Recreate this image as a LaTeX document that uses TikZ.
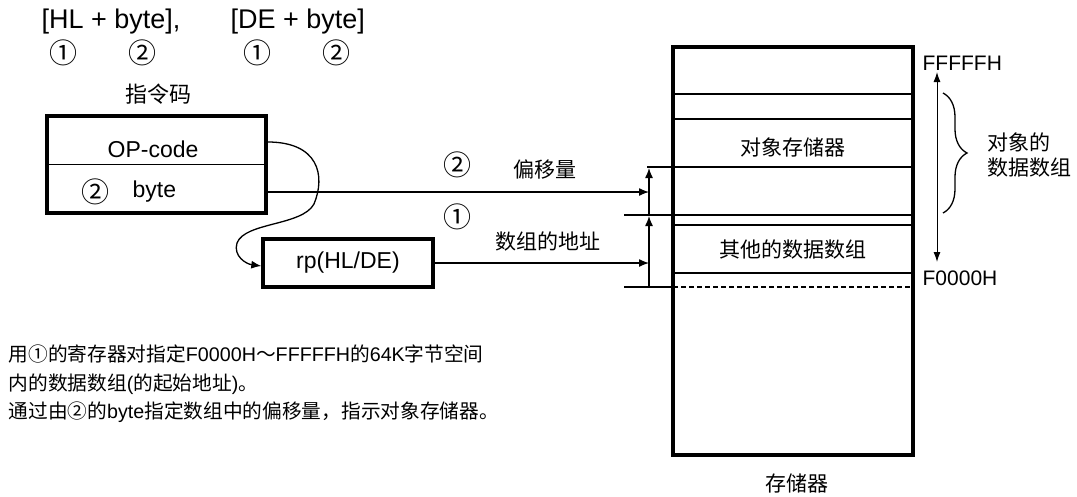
\documentclass[tikz,border=0pt]{standalone}
\usepackage{fontspec}
\setmainfont{Liberation Sans}
\newfontfamily\cjk{Noto Sans CJK SC}
\newcommand{\zh}[1]{{\cjk #1}}
\usetikzlibrary{arrows.meta, decorations.pathreplacing, calc}

\begin{document}
\begin{tikzpicture}[x=1pt, y=-1pt, line width=1.3pt,
    lbl/.style={font=\fontsize{21}{25}\selectfont\cjk, inner sep=0pt},
    num/.style={font=\fontsize{28}{30}\selectfont\cjk, inner sep=0pt},
    hdr/.style={font=\fontsize{27}{30}\selectfont, inner sep=0pt},
    celltxt/.style={font=\fontsize{23}{27}\selectfont, inner sep=0pt},
    addrtxt/.style={font=\fontsize{21}{25}\selectfont, inner sep=0pt, anchor=west},
    frame/.style={draw, line width=3.4pt, inner sep=0pt},
    arr/.style={-{Latex[length=10pt, width=8pt]}}]
    \useasboundingbox (0,0) rectangle (1077,496);
    % addressing forms
    \node[hdr, anchor=west] (hl) at (41,22) {[HL + byte],};
    \node[hdr, anchor=west] (de) at (230,22) {[DE + byte]};
    \foreach \x/\n in {63/①, 142/②, 257/①, 336/②}
        \node[num] (c\x) at (\x,53) {\n};
    % instruction code
    \node[lbl, font=\fontsize{22}{25}\selectfont\cjk] (ins) at (158,94) {指令码};
    \node[frame, minimum width=219pt, minimum height=97pt] (opbox) at (156.5,164.5) {};
    \draw (opbox.west) -- (opbox.east);
    \node[celltxt] (opcode) at (153,149) {OP-code};
    \node[num] (n2) at (95,192) {②};
    \node[celltxt, anchor=west] (bytetxt) at (132,192) {byte};
    % register
    \node[frame, celltxt, minimum width=170pt, minimum height=48pt] (rp) at (348,263) {rp(HL/DE)};
    % memory
    \node[frame, minimum width=240pt, minimum height=408pt] (mem) at (793,251) {};
    \foreach \y in {94,119,225,273}
        \draw (673,\y) -- (913,\y);
    \draw (647,167) -- (913,167);
    \draw[line width=1.7pt] (624,215) -- (913,215);
    \draw (624,287) -- (673,287);
    \draw[dash pattern=on 5pt off 3pt] (673,287) -- (913,287);
    \node[lbl] (obj) at (793,147) {对象存储器};
    \node[lbl] (other) at (793,250) {其他的数据数组};
    \node[lbl] (memname) at (797,483) {存储器};
    % address range
    \node[addrtxt] (hi) at (922,63) {FFFFFH};
    \node[addrtxt] (lo) at (922,278) {F0000H};
    \coordinate (rtop) at (937,72);
    \coordinate (rbot) at (937,262);
    \draw[{Latex[length=10pt,width=7pt]}-{Latex[length=10pt,width=7pt]}, line width=1pt] (rtop) -- (rbot);
    \draw[decorate, decoration={brace, amplitude=24pt}] (943,93) -- (943,213);
    \node[lbl, align=left, anchor=west] (grp) at (987,155) {对象的\\数据数组};
    % offsets
    \coordinate (base) at (649,287);
    \coordinate (arr1) at (649,216);
    \coordinate (arr2) at (649,168);
    \draw[arr] (base) -- (arr1);
    \draw[arr] (arr1) -- (arr2);
    \draw[arr] (opbox.east |- bytetxt.west) -- (arr2 |- bytetxt.west);
    \draw[arr] (rp.east) -- (base |- rp.east);
    \draw[arr] ([yshift=22.5pt]opbox.east) .. controls (318,142) and (326,175) .. (314,204)
        .. controls (302,226) and (245,222) .. (237,243)
        .. controls (233,256) and (246,264) .. ([yshift=-3pt]rp.west);
    \node[num] (o2) at (457,165) {②};
    \node[lbl] (offs) at (545,170) {偏移量};
    \node[num] (o1) at (457,217) {①};
    \node[lbl] (addr) at (548,242) {数组的地址};
    % note
    \node[anchor=west, align=left, font=\fontsize{19.7}{28.5}\selectfont, inner sep=0pt] (note) at (8,384)
        {\zh{用①的寄存器对指定}F0000H\zh{～}FFFFFH\zh{的}64K\zh{字节空间}\\
         \zh{内的数据数组}(\zh{的起始地址})\zh{。}\\
         \zh{通过由②的}byte\zh{指定数组中的偏移量，指示对象存储器。}};
\end{tikzpicture}
\end{document}
